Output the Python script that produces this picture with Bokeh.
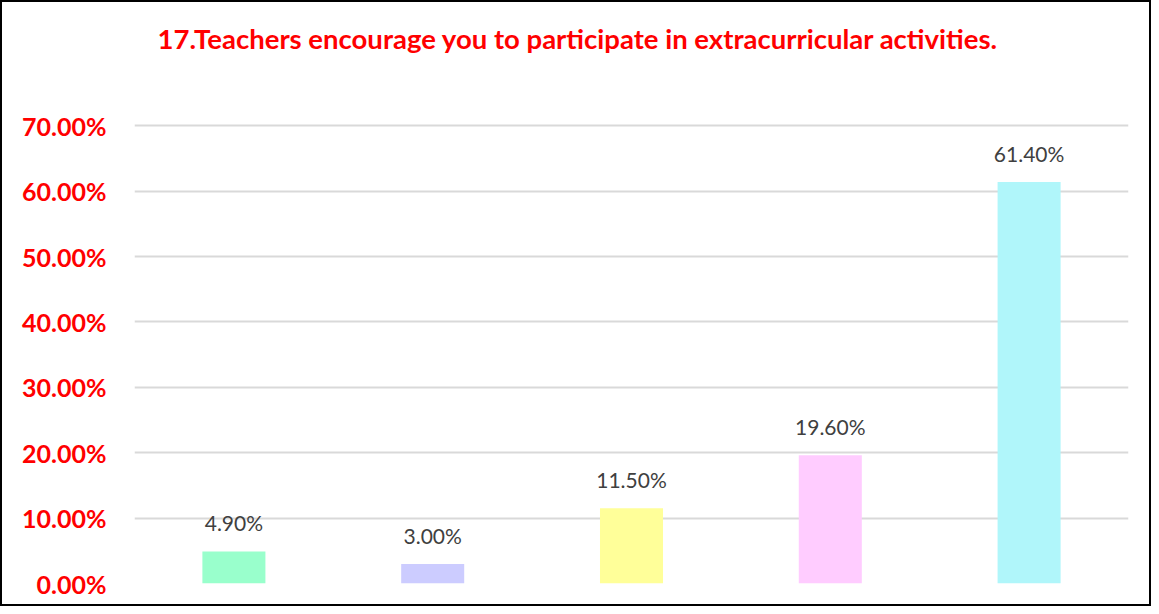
from bokeh.plotting import figure
from bokeh.models import ColumnDataSource, NumeralTickFormatter, FixedTicker, Range1d, LabelSet
from bokeh.core.properties import value
from bokeh.embed import file_html
from bokeh.resources import INLINE

title_text = "17.Teachers encourage you to participate in extracurricular activities."
categories = ["Strongly disagree", "Disagree", "Neutral", "Agree", "Strongly agree"]
values = [0.049, 0.030, 0.115, 0.196, 0.614]
labels = ["4.90%", "3.00%", "11.50%", "19.60%", "61.40%"]
colors = ["#99FFCC", "#CCCCFF", "#FFFF99", "#FFCCFF", "#B0F6FA"]
y_ticks = [0.0, 0.1, 0.2, 0.3, 0.4, 0.5, 0.6, 0.7]

src = ColumnDataSource(dict(cat=categories, val=values, lab=labels, col=colors))

p = figure(x_range=categories, y_range=Range1d(0, 0.7768), width=1151, height=606,
           output_backend="svg", toolbar_location=None,
           min_border_left=132, min_border_right=25, min_border_top=0, min_border_bottom=25)

p.title.text = title_text
p.title.text_color = "#FF0000"
p.title.text_font = "Lato"
p.title.text_font_size = "27.5px"
p.title.text_font_style = "bold"
p.title.align = "left"
p.title.vertical_align = "top"
p.title.offset = 23
p.title.standoff = 38

p.vbar(x="cat", top="val", width=0.317, color="col", line_color=None, source=src)
p.add_layout(LabelSet(x="cat", y="val", text="lab", source=src, text_align="center",
                      text_baseline="bottom", y_offset=16, text_color="#404040",
                      text_font_size="21px", text_font=value("Lato")))

p.xaxis.visible = False
p.xgrid.visible = False
p.ygrid.grid_line_color = "#D9D9D9"
p.ygrid.grid_line_width = 2
p.yaxis.ticker = FixedTicker(ticks=y_ticks)
p.yaxis.formatter = NumeralTickFormatter(format="0.00%")
p.yaxis.axis_line_color = None
p.yaxis.major_tick_line_color = None
p.yaxis.minor_tick_line_color = None
p.yaxis.major_label_text_color = "#FF0000"
p.yaxis.major_label_text_font = "Lato"
p.yaxis.major_label_text_font_style = "bold"
p.yaxis.major_label_text_font_size = "25px"
p.yaxis.major_label_standoff = 22
p.outline_line_color = None
p.styles = {"border": "2px solid black", "box-sizing": "border-box"}

open("out.html", "w").write(file_html(p, INLINE))
